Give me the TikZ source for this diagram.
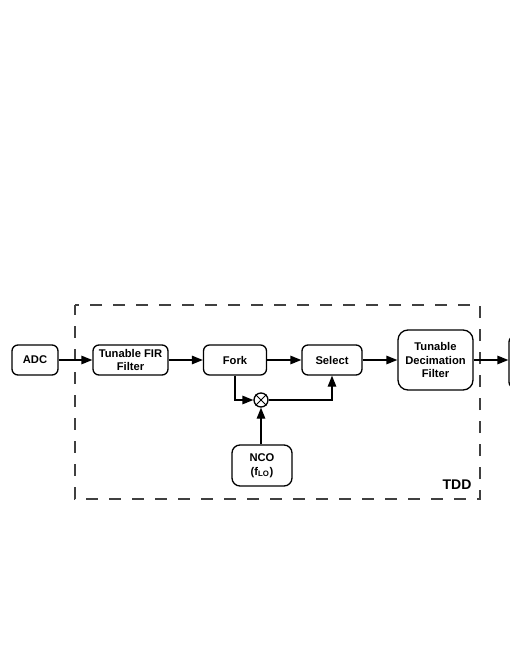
\documentclass[tikz,border=0pt]{standalone}
\usepackage{fontspec}
\setmainfont{Liberation Sans}
\usetikzlibrary{arrows.meta}
\begin{document}
\begin{tikzpicture}[x=1pt,y=-1pt,
  blk/.style={draw, line width=1.3pt, rounded corners=6pt, align=center,
    font=\bfseries\fontsize{11.2}{13.5}\selectfont, inner sep=0pt},
  arr/.style={-{Triangle[length=11pt,width=8.5pt]}, line width=1.3pt},
  wire/.style={line width=1.3pt}]
\useasboundingbox (0,0) rectangle (510,660);
\fill[white] (0,0) rectangle (510,660);
% dashed TDD frame
\draw[line width=1.3pt, draw=black!75, dash pattern=on 12pt off 11pt, dash phase=2pt]
  (75,305) rectangle (480,499);
\node[font=\bfseries\fontsize{14}{16}\selectfont, anchor=center] (tdd) at (457,485) {TDD};
% blocks
\node[blk, minimum width=46pt, minimum height=30pt] (adc) at (35,360) {ADC};
\node[blk, minimum width=75pt, minimum height=30pt] (fir) at (130.5,360) {Tunable FIR\\Filter};
\node[blk, minimum width=63pt, minimum height=30pt] (fork) at (235,360) {Fork};
\node[blk, minimum width=60pt, minimum height=30pt] (sel) at (332,360) {Select};
\node[blk, minimum width=75pt, minimum height=60pt, rounded corners=10pt] (dec) at (435.5,360) {Tunable\\Decimation\\Filter};
\node[blk, minimum width=62pt, minimum height=52pt] (nxt) at (540,362) {};
\node[blk, minimum width=60pt, minimum height=41pt, rounded corners=8pt] (nco) at (262,465.5) {NCO\\(f\textsubscript{LO})};
% mixer
\node[draw, circle, line width=1.3pt, minimum size=14pt, inner sep=0pt] (mix) at (261,400) {};
\draw[wire, line width=1pt] (mix.north east) -- (mix.south west) (mix.north west) -- (mix.south east);
% connectors
\draw[arr] (adc) -- (fir);
\draw[arr] (fir) -- (fork);
\draw[arr] (fork) -- (sel);
\draw[arr] (sel) -- (dec);
\draw[arr] (dec.east) -- (dec.east -| nxt.west);
\draw[arr] (fork.south) |- (mix.west);
\draw[arr] (mix.east) -| (sel.south);
\draw[arr] (nco.north -| mix) -- (mix.south);
\end{tikzpicture}
\end{document}
